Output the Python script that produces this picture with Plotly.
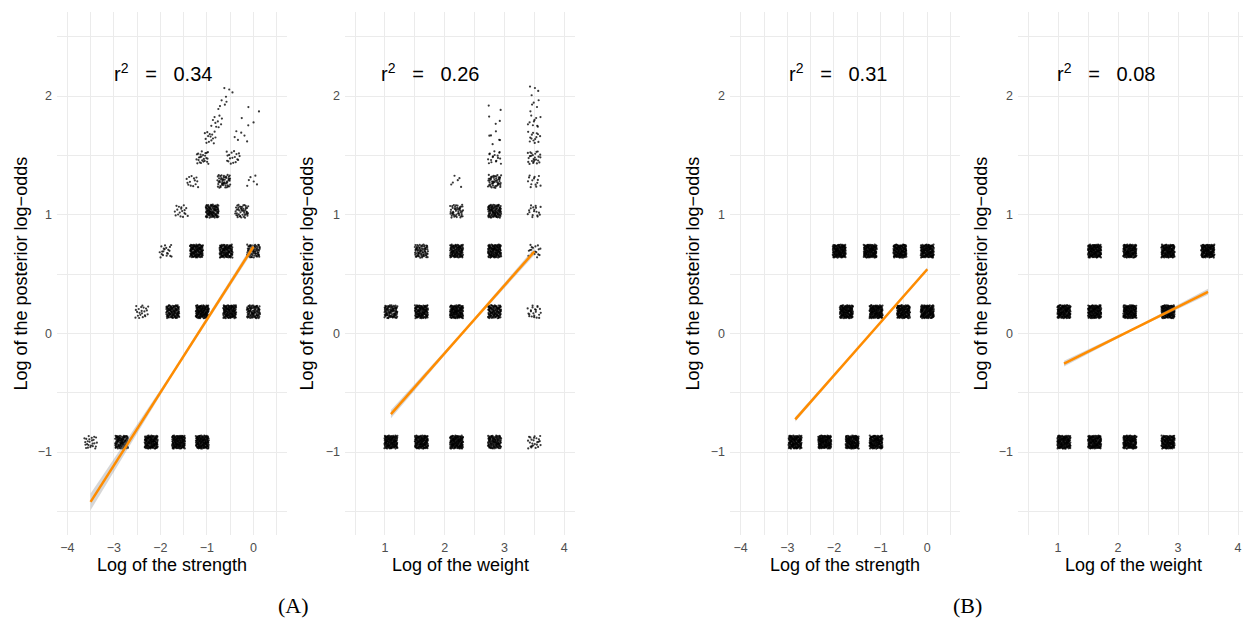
import numpy as np
import plotly.graph_objects as go

# ---------------- data ----------------
# Panel (A): clusters of respondents; weight W, strength numerator s (strength = s/W),
# posterior log-odds = 0.4*s, and approximate number of points per cluster
A_weight = [33, 17, 9, 5, 3,
            33, 17, 9, 5, 3,
            33, 17, 9, 5,
            33, 17, 9,
            33, 17, 9,
            33, 17,
            33, 17,
            33, 17,
            33, 17,
            33]
A_num = [1, 1, 1, 1, 1,
         3, 3, 3, 3, 3,
         5, 5, 5, 5,
         7, 7, 7,
         9, 9, 9,
         11, 11,
         13, 13,
         15, 15,
         17, 17,
         19]
A_count = [25, 110, 140, 140, 140,
           22, 110, 140, 130, 90,
           20, 130, 120, 70,
           18, 100, 45,
           14, 50, 6,
           25, 18,
           14, 6,
           10, 3,
           5, 2,
           4]

# Panel (B)
B_weight = [17, 9, 5, 3,
            17, 9, 5, 3,
            33, 17, 9, 5]
B_num = [1, 1, 1, 1,
         3, 3, 3, 3,
         5, 5, 5, 5]
B_count = [150] * 12

POST_UNIT = 0.4  # posterior log-odds per strength-numerator step

# Fitted lines: x start/end, y start/end, band half-widths (start, mid, end)
fit_x0 = [-3.50, 1.10, -2.83, 1.10]
fit_x1 = [0.00, 3.50, 0.00, 3.50]
fit_y0 = [-1.42, -0.68, -0.725, -0.255]
fit_y1 = [0.73, 0.69, 0.54, 0.35]
band_hw = [[0.07, 0.015, 0.03], [0.035, 0.01, 0.03], [0.02, 0.008, 0.015], [0.025, 0.008, 0.025]]

r2_labels = ["0.34", "0.26", "0.31", "0.08"]
x_titles = ["Log of the strength", "Log of the weight", "Log of the strength", "Log of the weight"]
y_title = "Log of the posterior log\u2212odds"
x_ticks_strength = [-4, -3, -2, -1, 0]
x_ticks_weight = [1, 2, 3, 4]
y_ticks = [-1, 0, 1, 2]
panel_tags = ["(A)", "(B)"]

# ---------------- geometry ----------------
W, H = 1243, 621
def px(x):
    return x / W
def py(y):
    return 1 - y / H

ydom = [py(535), py(12)]
yrange = [-1.699, 2.708]
xdoms = [[px(57), px(287)], [px(345), px(575)], [px(730), px(960)], [px(1018), 1.0]]
xranges = [[-4.222, 0.722], [0.331, 4.179], [-4.229, 0.701], [0.333, 4.083]]
jit_x = [0.14, 0.11, 0.14, 0.11]
jit_y = 0.055

def halton(i, b):
    f, r = 1.0, 0.0
    while i > 0:
        f /= b
        r += f * (i % b)
        i //= b
    return r

def jittered(cx, cy, counts, jx, start):
    xs, ys = [], []
    k = start
    for x0, y0, n in zip(cx, cy, counts):
        for i in range(n):
            k += 1
            xs.append(x0 + (2 * halton(k, 2) - 1) * jx)
            ys.append(y0 + (2 * halton(k, 3) - 1) * jit_y)
    return xs, ys

fig = go.Figure()

panels = []
aw = np.array(A_weight, float); an = np.array(A_num, float)
bw = np.array(B_weight, float); bn = np.array(B_num, float)
panels.append((np.log(an / aw), np.log(POST_UNIT * an), A_count))
panels.append((np.log(aw), np.log(POST_UNIT * an), A_count))
panels.append((np.log(bn / bw), np.log(POST_UNIT * bn), B_count))
panels.append((np.log(bw), np.log(POST_UNIT * bn), B_count))

for p, (cx, cy, cnt) in enumerate(panels):
    xa = "x" if p == 0 else f"x{p+1}"
    ya = "y" if p == 0 else f"y{p+1}"
    xs, ys = jittered(cx, cy, cnt, jit_x[p], 17 + 3000 * p)
    fig.add_trace(go.Scatter(x=xs, y=ys, mode="markers", xaxis=xa, yaxis=ya,
                             marker=dict(size=2.2, color="rgba(0,0,0,0.78)", line=dict(width=0)),
                             showlegend=False, hoverinfo="skip"))
    # confidence band
    x0, x1 = fit_x0[p], fit_x1[p]
    y0, y1 = fit_y0[p], fit_y1[p]
    xm, ym = (x0 + x1) / 2, (y0 + y1) / 2
    h0, hm, h1 = band_hw[p]
    bx = [x0, xm, x1, x1, xm, x0, x0]
    by = [y0 + h0, ym + hm, y1 + h1, y1 - h1, ym - hm, y0 - h0, y0 + h0]
    fig.add_trace(go.Scatter(x=bx, y=by, mode="lines", fill="toself", xaxis=xa, yaxis=ya,
                             fillcolor="rgba(153,153,153,0.4)", line=dict(width=0),
                             showlegend=False, hoverinfo="skip"))
    fig.add_trace(go.Scatter(x=[x0, x1], y=[y0, y1], mode="lines", xaxis=xa, yaxis=ya,
                             line=dict(color="#FF8C00", width=2.5),
                             showlegend=False, hoverinfo="skip"))

tickfont = dict(family="Liberation Sans, Arial, sans-serif", size=12.5, color="#4D4D4D")
grid = dict(showgrid=True, gridcolor="#EBEBEB", gridwidth=1, zeroline=False, showline=False,
            ticks="", tickfont=tickfont, minor=dict(showgrid=True, gridcolor="#EBEBEB", gridwidth=1, dtick=0.5))

layout = dict(width=W, height=H, margin=dict(l=0, r=0, t=0, b=0),
              paper_bgcolor="white", plot_bgcolor="white", showlegend=False)
for p in range(4):
    xk = "xaxis" if p == 0 else f"xaxis{p+1}"
    yk = "yaxis" if p == 0 else f"yaxis{p+1}"
    xa_anchor = "y" if p == 0 else f"y{p+1}"
    ya_anchor = "x" if p == 0 else f"x{p+1}"
    xt = x_ticks_strength if p % 2 == 0 else x_ticks_weight
    layout[xk] = dict(domain=xdoms[p], range=xranges[p], anchor=xa_anchor,
                      tickmode="array", tickvals=xt, ticklabelstandoff=3, **grid)
    layout[yk] = dict(domain=ydom, range=yrange, anchor=ya_anchor,
                      tickmode="array", tickvals=y_ticks, ticklabelstandoff=4, **grid)
fig.update_layout(**layout)

title_font = dict(family="Liberation Sans, Arial, sans-serif", size=18, color="black")
ytitle_x = [20, 306, 692, 980]
xtitle_x = [172, 460, 845, 1133]
r2_x = [163, 430, 838, 1106]
sp = "\u00a0\u00a0\u00a0"
ann = []
for p in range(4):
    ann.append(dict(x=px(ytitle_x[p]), y=py(273.5), xref="paper", yref="paper", text=y_title,
                    textangle=-90, showarrow=False, font=title_font, xanchor="center", yanchor="middle"))
    ann.append(dict(x=px(xtitle_x[p]), y=py(565), xref="paper", yref="paper", text=x_titles[p],
                    showarrow=False, font=title_font, xanchor="center", yanchor="middle"))
    ann.append(dict(x=px(r2_x[p]), y=py(73), xref="paper", yref="paper",
                    text="r<sup>2</sup>" + sp + "=" + sp + r2_labels[p],
                    showarrow=False, font=dict(family="Liberation Sans, Arial, sans-serif", size=20, color="black"),
                    xanchor="center", yanchor="middle"))
for tag, xx in zip(panel_tags, [293, 967]):
    ann.append(dict(x=px(xx), y=py(605), xref="paper", yref="paper", text=tag, showarrow=False,
                    font=dict(family="Liberation Serif, Times New Roman, serif", size=22, color="black"),
                    xanchor="center", yanchor="middle"))
fig.update_layout(annotations=ann)

fig.write_html("out.html", config={"displayModeBar": False},
               post_script="document.body.style.margin='0px';document.body.style.overflow='hidden';")
